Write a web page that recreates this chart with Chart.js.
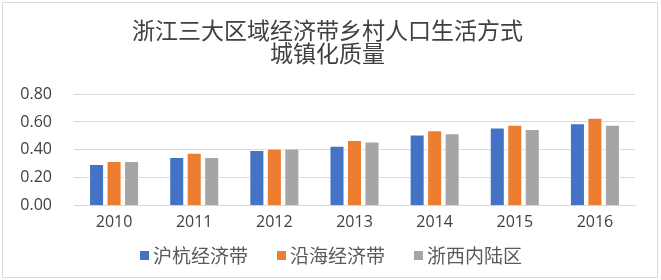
<!DOCTYPE html>
<html>
<head>
<meta charset="utf-8">
<script src="https://cdn.jsdelivr.net/npm/chart.js@4"></script>
<style>
html,body{margin:0;padding:0;background:#fff;}
#wrap{position:relative;width:661px;height:280px;}
#legend{position:absolute;left:140px;top:245px;height:20px;display:flex;align-items:center;
  font-family:"Noto Sans CJK SC","Noto Sans",sans-serif;font-size:19px;line-height:20px;color:#595959;white-space:nowrap;}
#legend .item{display:flex;align-items:center;margin-right:29px;}
#legend .item:last-child{margin-right:0;}
#legend .box{width:9px;height:9px;margin-right:4px;flex:none;}
</style>
</head>
<body>
<div id="wrap"><canvas id="c" width="661" height="280"></canvas><div id="legend"></div></div>
<script>
const categories = ['2010','2011','2012','2013','2014','2015','2016'];
const seriesNames = ['沪杭经济带','沿海经济带','浙西内陆区'];
const huhang = [0.30,0.35,0.40,0.43,0.51,0.56,0.59];
const yanhai = [0.32,0.38,0.41,0.47,0.54,0.58,0.63];
const zhexi = [0.32,0.35,0.41,0.46,0.52,0.55,0.58];
const titleLines = ['浙江三大区域经济带乡村人口生活方式','城镇化质量'];
const colors = ['#4472C4','#ED7D31','#A5A5A5'];

const frame = {
  id:'frame',
  beforeDraw(chart){
    const ctx = chart.ctx;
    ctx.save();
    ctx.fillStyle = '#fff';
    ctx.fillRect(0,0,chart.width,chart.height);
    ctx.strokeStyle = '#D9D9D9';
    ctx.lineWidth = 1;
    ctx.strokeRect(2.5,2.5,655,275);
    ctx.restore();
  }
};

const htmlLegend = {
  id:'htmlLegend',
  afterUpdate(chart){
    const el = document.getElementById('legend');
    el.innerHTML = '';
    chart.data.datasets.forEach(ds=>{
      const item = document.createElement('div');
      item.className = 'item';
      const box = document.createElement('span');
      box.className = 'box';
      box.style.background = ds.backgroundColor;
      const txt = document.createElement('span');
      txt.textContent = ds.label;
      item.appendChild(box);
      item.appendChild(txt);
      el.appendChild(item);
    });
  }
};

const cjk = '"Noto Sans CJK SC", "Noto Sans", sans-serif';
const num = '"Open Sans", "Noto Sans", sans-serif';

new Chart(document.getElementById('c'), {
  type:'bar',
  data:{
    labels:categories,
    datasets:[huhang,yanhai,zhexi].map((d,i)=>({
      label:seriesNames[i],
      data:d,
      backgroundColor:colors[i],
      borderColor:'#ffffff',
      borderWidth:1,
      categoryPercentage:0.655,
      barPercentage:0.86
    }))
  },
  options:{
    responsive:false,
    animation:false,
    devicePixelRatio:1,
    layout:{padding:{left:20,right:26,top:0,bottom:41}},
    plugins:{
      title:{
        display:true,
        text:titleLines,
        color:'#404040',
        font:{family:cjk,size:23,weight:'normal',lineHeight:1.0},
        padding:{top:19,bottom:29}
      },
      legend:{display:false},
      tooltip:{enabled:false}
    },
    scales:{
      x:{
        grid:{display:false,drawTicks:false},
        border:{display:true,color:'#D9D9D9'},
        ticks:{color:'#404040',font:{family:num,size:16},padding:7}
      },
      y:{
        min:0,max:0.8,
        grid:{color:'#D9D9D9',drawTicks:false},
        border:{display:false},
        afterFit:s=>{s.width=54;},
        ticks:{stepSize:0.2,color:'#404040',font:{family:num,size:16},padding:22,
          callback:v=>Number(v).toFixed(2)}
      }
    }
  },
  plugins:[frame,htmlLegend]
});
</script>
</body>
</html>
